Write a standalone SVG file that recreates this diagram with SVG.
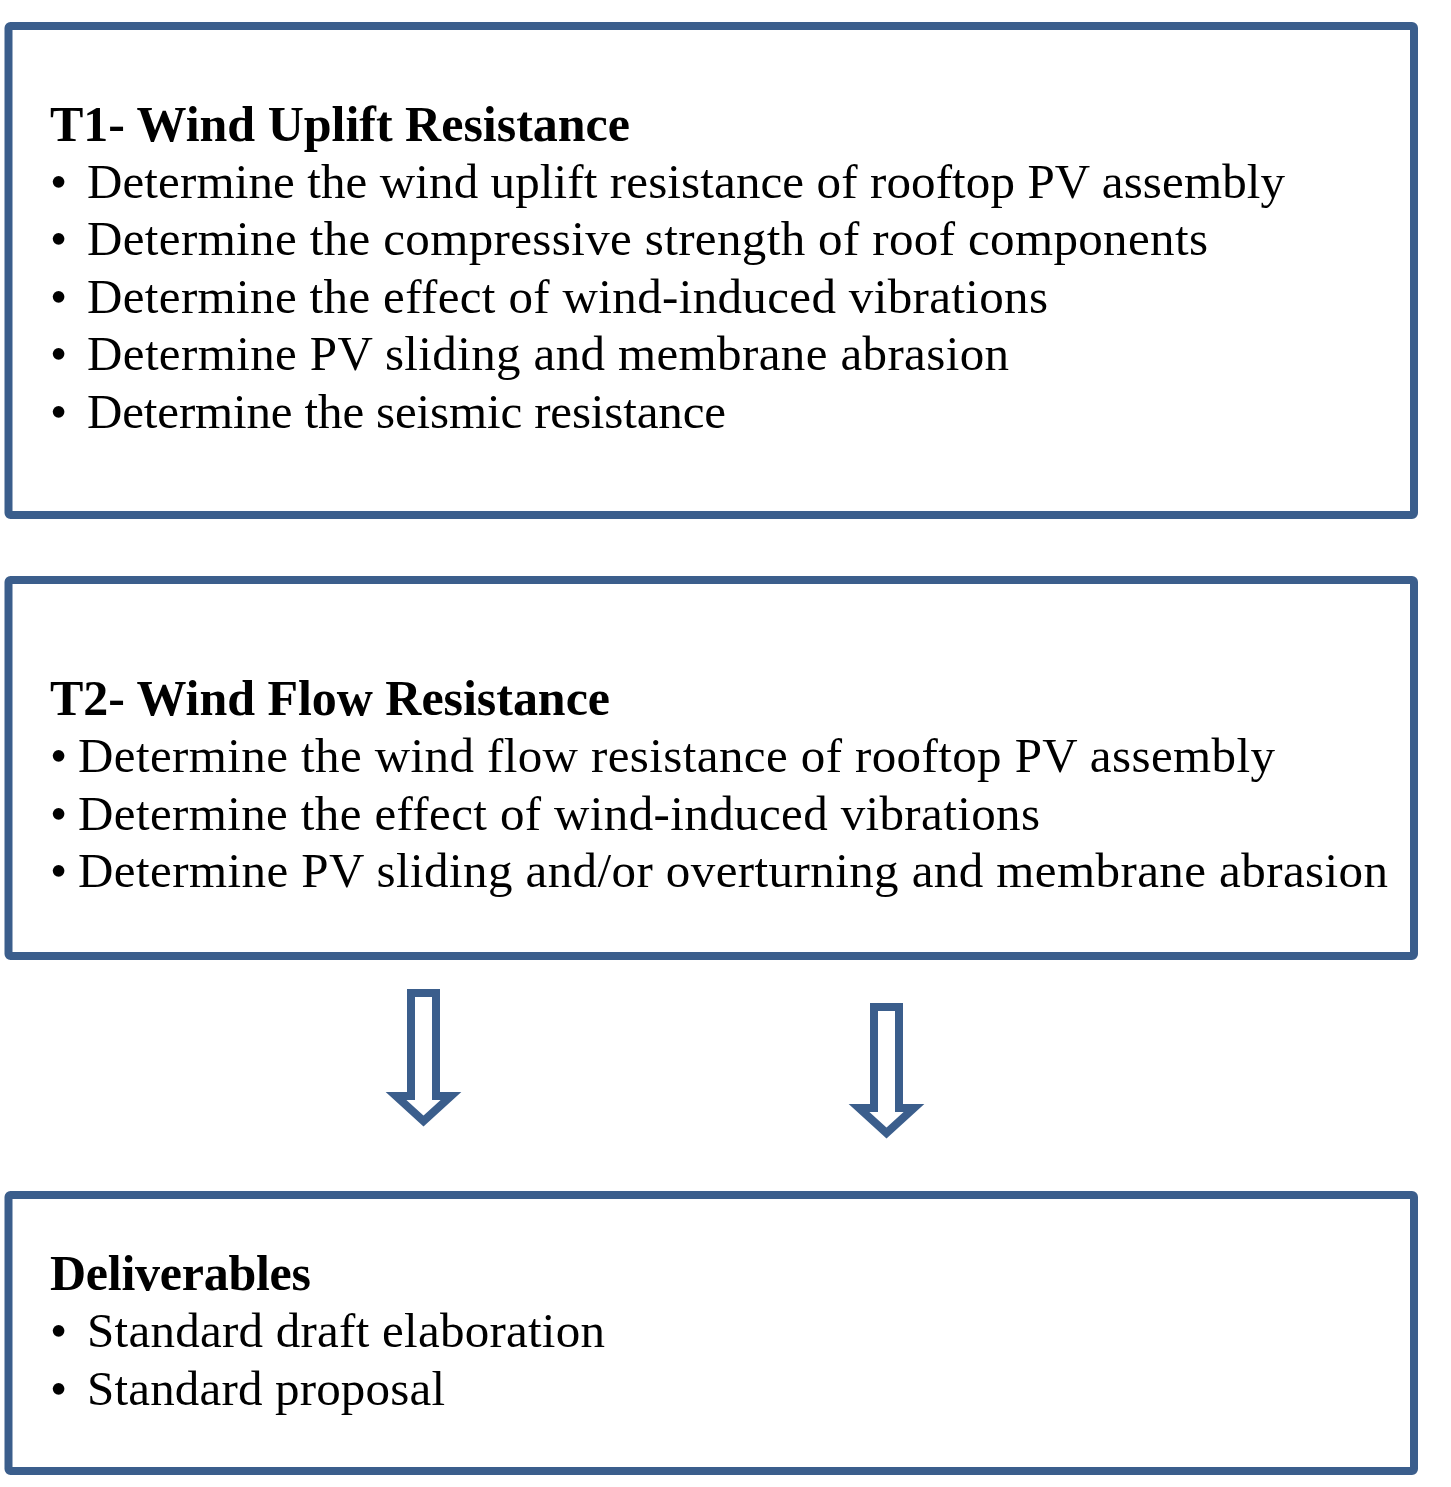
<svg xmlns="http://www.w3.org/2000/svg" width="1451" height="1487" viewBox="0 0 1451 1487">
<style>
.box{fill:#fff;stroke:#3B5E8C;stroke-width:8}
.arr{fill:#fff;stroke:#3B5E8C;stroke-width:8;stroke-linejoin:miter}
.h{font-family:"Liberation Serif","Times New Roman",serif;font-weight:bold;font-size:50px;fill:#000}
.t{font-family:"Liberation Serif","Times New Roman",serif;font-size:49px;fill:#000}
</style>
<rect width="1451" height="1487" fill="#fff"/>
<g id="t1">
<rect class="box" x="8.5" y="26" width="1405.5" height="489" rx="2"/>
<text class="h" x="50" y="141" textLength="580" lengthAdjust="spacing">T1- Wind Uplift Resistance</text>
<text class="t" x="50" y="198">•</text><text class="t" x="87" y="198" textLength="1198" lengthAdjust="spacing">Determine the wind uplift resistance of rooftop PV assembly</text>
<text class="t" x="50" y="255">•</text><text class="t" x="87" y="255" textLength="1121" lengthAdjust="spacing">Determine the compressive strength of roof components</text>
<text class="t" x="50" y="313">•</text><text class="t" x="87" y="313" textLength="961" lengthAdjust="spacing">Determine the effect of wind-induced vibrations</text>
<text class="t" x="50" y="370">•</text><text class="t" x="87" y="370" textLength="922" lengthAdjust="spacing">Determine PV sliding and membrane abrasion</text>
<text class="t" x="50" y="428">•</text><text class="t" x="87" y="428" textLength="639" lengthAdjust="spacing">Determine the seismic resistance</text>
</g>
<g id="t2">
<rect class="box" x="8.5" y="580" width="1405.5" height="376" rx="2"/>
<text class="h" x="50" y="715" textLength="560" lengthAdjust="spacing">T2- Wind Flow Resistance</text>
<text class="t" x="50" y="772">•</text><text class="t" x="78" y="772" textLength="1197" lengthAdjust="spacing">Determine the wind flow resistance of rooftop PV assembly</text>
<text class="t" x="50" y="830">•</text><text class="t" x="78" y="830" textLength="962" lengthAdjust="spacing">Determine the effect of wind-induced vibrations</text>
<text class="t" x="50" y="887">•</text><text class="t" x="78" y="887" textLength="1310" lengthAdjust="spacing">Determine PV sliding and/or overturning and membrane abrasion</text>
</g>
<g id="deliverables">
<rect class="box" x="8.5" y="1195" width="1405.5" height="276" rx="2"/>
<text class="h" x="50" y="1290" textLength="261" lengthAdjust="spacing">Deliverables</text>
<text class="t" x="50" y="1347">•</text><text class="t" x="87" y="1347" textLength="518" lengthAdjust="spacing">Standard draft elaboration</text>
<text class="t" x="50" y="1405">•</text><text class="t" x="87" y="1405" textLength="358" lengthAdjust="spacing">Standard proposal</text>
</g>
<g id="connectors">
<path class="arr" d="M411,993 H436 V1096 H451 L423.5,1121 L396,1096 H411 Z"/>
<path class="arr" d="M874,1007 H899 V1108 H914 L886.5,1133 L859,1108 H874 Z"/>
</g>
</svg>
